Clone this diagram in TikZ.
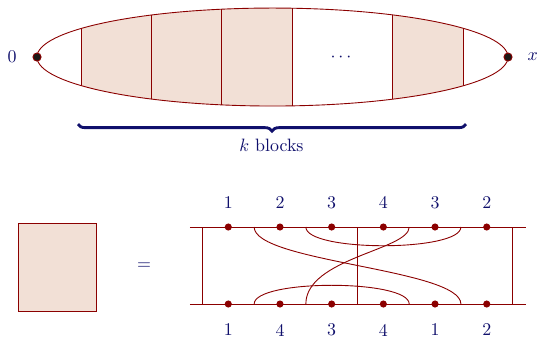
\documentclass[tikz,border=0pt]{standalone}
\usepackage{xcolor}
\usepackage{tikz}
\usetikzlibrary{decorations.pathreplacing}
\definecolor{wine}{HTML}{8B0000}
\definecolor{blush}{HTML}{F2E0D6}
\definecolor{navy}{HTML}{10106C}
\definecolor{coal}{HTML}{1B1916}

\begin{document}
\begin{tikzpicture}[
  every node/.style={text=navy},
  wire/.style={wine,line width=0.5pt},
  pin/.style={circle,fill=wine,inner sep=0pt,minimum size=1.4mm},
  endpt/.style={circle,fill=coal,draw=wine,line width=0.5pt,inner sep=0pt,minimum size=1.6mm},
  strand/.style={wine,line width=0.5pt}]
  \useasboundingbox (0,0) rectangle (10.565,6.618);
  \begin{scope}
    \clip (5.351,5.498) ellipse [x radius=4.625,y radius=0.962];
    \foreach \a/\z in {1.591/2.965,2.965/4.340,4.340/5.734,7.698/9.092}
      \fill[blush] (\a,4.4) rectangle (\z,6.6);
    \foreach \a in {1.591,2.965,4.340,5.734,7.698,9.092}
      \draw[wire] (\a,4.4) -- (\a,6.6);
  \end{scope}
  \draw[wire] (5.351,5.498) ellipse [x radius=4.625,y radius=0.962];
  \node[endpt] (zero) at (0.727,5.498) {};
  \node[endpt] (end) at (9.976,5.498) {};
  \node (zl) at (0.236,5.498) {$0$};
  \node (xl) at (10.46,5.498) {$x$};
  \node (dots) at (6.696,5.498) {$\cdots$};
  \draw[navy,line width=1.6pt,decorate,decoration={brace,mirror,amplitude=3.9pt}] (1.532,4.18) -- (9.151,4.18);
  \node (kb) at (5.33,3.770) {$k$ blocks};
  \node[draw=wine,fill=blush,line width=0.5pt,minimum width=1.532cm,minimum height=1.728cm,inner sep=0pt] (blk) at (1.119,1.375) {};
  \node (eq) at (2.828,1.394) {$=$};
  \coordinate (tl) at (3.731,2.160);
  \coordinate (tr) at (10.329,2.160);
  \coordinate (bl) at (3.731,0.648);
  \coordinate (br) at (10.329,0.648);
  \draw[wire] (tl) -- (tr);
  \draw[wire] (bl) -- (br);
  \foreach \i in {0,...,6} {
    \coordinate (tm\i) at ({3.976+\i*1.015},2.160);
    \coordinate (bm\i) at ({3.976+\i*1.015},0.648);
  }
  \foreach \i in {0,3,6}
    \draw[wire] (tm\i) -- (bm\i);
  \draw[strand] (tm1) .. controls +(0,-0.69) and +(0,0.69) .. (bm5);
  \draw[strand] (tm2) .. controls +(0,-0.49) and +(0,-0.49) .. (tm5);
  \draw[strand] (tm4) .. controls +(0,-0.45) and +(0,0.9) .. (bm2);
  \draw[strand] (bm1) .. controls +(0,0.49) and +(0,0.49) .. (bm4);
  \foreach \ta/\ba [count=\i] in {1/1,2/4,3/3,4/4,3/1,2/2} {
    \node[pin] (t\i) at ({4.483+(\i-1)*1.015},2.160) {};
    \node[pin] (b\i) at ({4.483+(\i-1)*1.015},0.648) {};
    \node (tn\i) at ({4.483+(\i-1)*1.015},2.637) {\ta};
    \node (bn\i) at ({4.483+(\i-1)*1.015},0.137) {\ba};
  }
\end{tikzpicture}
\end{document}
